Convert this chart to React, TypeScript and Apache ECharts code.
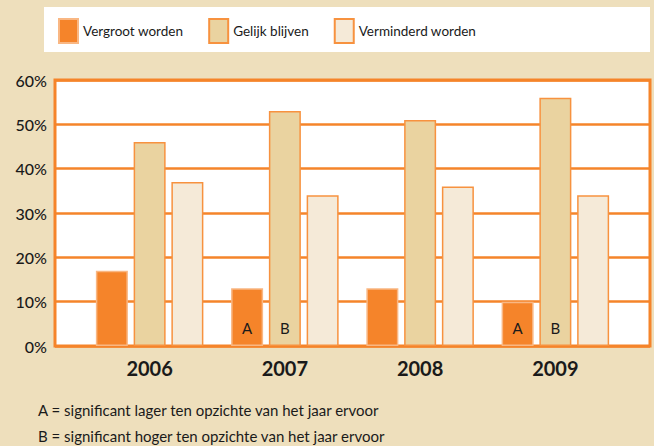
import React, { useEffect, useRef } from "react";
import * as echarts from "echarts";

const categories = ["2006", "2007", "2008", "2009"];
const seriesNames = ["Vergroot worden", "Gelijk blijven", "Verminderd worden"];
const vergroot = [17, 13, 13, 10];
const gelijk = [46, 53, 51, 56];
const verminderd = [37, 34, 36, 34];
const vergrootMarks = ["", "A", "", "A"];
const gelijkMarks = ["", "B", "", "B"];
const verminderdMarks = ["", "", "", ""];
const yTicks = [0, 10, 20, 30, 40, 50, 60];
const footnotes = [
  "A = significant lager ten opzichte van het jaar ervoor",
  "B = significant hoger ten opzichte van het jaar ervoor",
];

const ORANGE = "#F5842A";
const FONT = "Lato, 'Noto Sans', sans-serif";
const TEXT = "#1a1a1a";

export default function App() {
  const ref = useRef<HTMLDivElement>(null);
  useEffect(() => {
    const chart = echarts.init(ref.current!, null, { renderer: "svg" });
    const mk = (
      name: string,
      values: number[],
      marks: string[],
      fill: string,
      border: string
    ) => ({
      name,
      type: "bar",
      xAxisIndex: 1,
      yAxisIndex: 1,
      barWidth: 32,
      barGap: "18%",
      data: values.map((v, i) => ({
        value: v,
        label: {
          show: marks[i] !== "",
          formatter: marks[i],
        },
      })),
      itemStyle: { color: fill, borderColor: border, borderWidth: 1.5 },
      label: {
        position: "insideBottom",
        distance: 11,
        color: TEXT,
        fontSize: 15,
        fontFamily: FONT,
      },
    });
    chart.setOption({
      animation: false,
      backgroundColor: "#EEDFBC",
      textStyle: { fontFamily: FONT },
      graphic: [
        {
          type: "rect",
          shape: { x: 44, y: 7, width: 606, height: 45 },
          style: { fill: "#ffffff" },
          z: -1,
        },
        ...footnotes.map((t, i) => ({
          type: "text",
          left: 38,
          top: 402 + i * 26,
          style: { text: t, fontSize: 15, fill: TEXT, fontFamily: FONT },
        })),
      ],
      legend: {
        left: 53,
        top: 13,
        itemWidth: 19,
        itemHeight: 24,
        itemGap: 25,
        icon: "rect",
        data: seriesNames,
        textStyle: { fontSize: 13.5, color: TEXT, fontFamily: FONT },
      },
      grid: [
        {
          left: 55,
          right: 4,
          top: 80,
          height: 266,
          show: true,
          backgroundColor: "#ffffff",
          borderColor: ORANGE,
          borderWidth: 3,
        },
        { left: 82, right: 31, top: 80, height: 266 },
      ],
      xAxis: [
        { type: "value", gridIndex: 0, min: 0, max: 1, show: false },
        {
          type: "category",
          gridIndex: 1,
          data: categories,
          axisLine: { show: false },
          axisTick: { show: false },
          axisLabel: {
            margin: 12,
            fontSize: 20,
            fontWeight: "bold",
            color: TEXT,
            fontFamily: FONT,
          },
        },
      ],
      yAxis: [
        {
          type: "value",
          gridIndex: 0,
          min: yTicks[0],
          max: yTicks[yTicks.length - 1],
          interval: 10,
          axisLine: { show: false },
          axisTick: { show: false },
          axisLabel: {
            formatter: "{value}%",
            margin: 8,
            fontSize: 16,
            fontWeight: 500,
            color: TEXT,
            fontFamily: FONT,
          },
          splitLine: { lineStyle: { color: ORANGE, width: 2.5 } },
        },
        {
          type: "value",
          gridIndex: 1,
          min: 0,
          max: 60,
          show: false,
        },
      ],
      series: [
        mk(seriesNames[0], vergroot, vergrootMarks, ORANGE, "#F9B783"),
        mk(seriesNames[1], gelijk, gelijkMarks, "#EAD3A0", "#F7923F"),
        mk(seriesNames[2], verminderd, verminderdMarks, "#F5EAD8", "#F7923F"),
      ],
    });
    return () => chart.dispose();
  }, []);
  return <div ref={ref} style={{ width: 654, height: 446, position: "absolute", left: 0, top: 0 }} />;
}
